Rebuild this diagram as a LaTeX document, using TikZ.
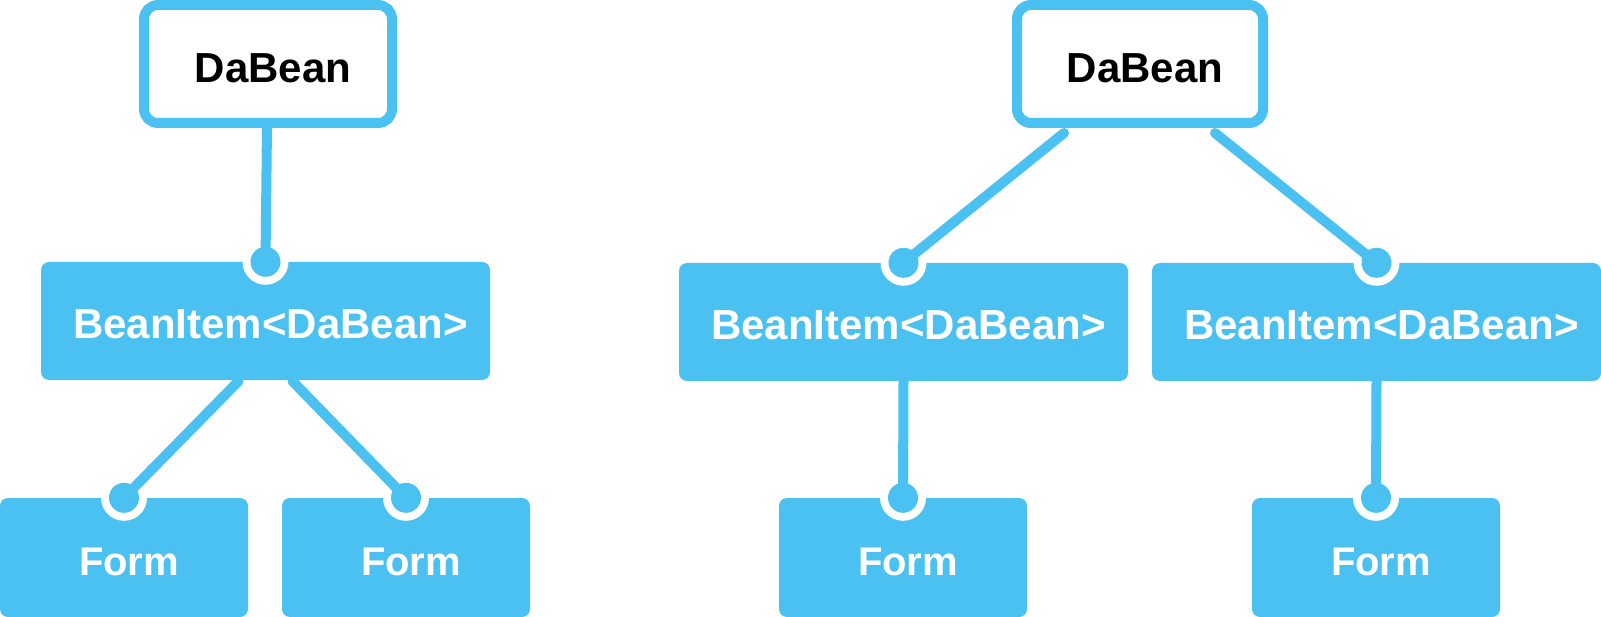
\documentclass[tikz,border=0pt]{standalone}
\usepackage{fontspec}
\setmainfont{Liberation Sans}
\usetikzlibrary{calc}
\definecolor{sky}{HTML}{4AC1F1}
\tikzset{
  outlinebox/.style={draw=sky, line width=10pt, fill=white, rounded corners=14pt,
    minimum width=248pt, minimum height=118pt, inner sep=0pt, text=black,
    text height=37pt, text depth=0pt,
    font=\fontsize{42}{48}\selectfont\bfseries},
  solidbox/.style={fill=sky, draw=none, rounded corners=8pt,
    minimum height=118pt, inner sep=0pt, text=white,
    text height=36pt, text depth=0pt,
    font=\fontsize{42}{48}\selectfont\bfseries},
  beanbox/.style={solidbox, minimum width=449pt},
  formbox/.style={solidbox, minimum width=248pt, minimum height=119pt,
    font=\fontsize{40}{48}\selectfont\bfseries},
  link/.style={draw=sky, line width=10pt, line cap=round},
}
\newcommand{\lbl}[1]{\hspace*{10pt}#1}
\newcommand{\ringdot}[1]{\fill[white] (#1) circle (23pt);}
\newcommand{\bluedot}[1]{\fill[sky] (#1) circle (15pt);}
\begin{document}
\begin{tikzpicture}[x=1pt, y=-1pt]
\useasboundingbox (0,0) rectangle (1601,617);
% left tree
\node[outlinebox] (d1) at (268,64) {\lbl{DaBean}};
\node[beanbox] (b1) at (265.5,321) {\lbl{BeanItem<DaBean>}};
\node[formbox] (f1) at (124,557.5) {\lbl{Form}};
\node[formbox] (f2) at (406,557.5) {\lbl{Form}};
% right tree
\node[outlinebox, minimum width=246pt] (d2) at (1140,64) {\lbl{DaBean}};
\node[beanbox] (b2) at (903.5,322) {\lbl{BeanItem<DaBean>}};
\node[beanbox] (b3) at (1376.5,322) {\lbl{BeanItem<DaBean>}};
\node[formbox] (f3) at (903,557.5) {\lbl{Form}};
\node[formbox] (f4) at (1376,557.5) {\lbl{Form}};
% white rings
\ringdot{b1.north}
\ringdot{f1.north}
\ringdot{f2.north}
\ringdot{b2.north}
\ringdot{b3.north}
\ringdot{f3.north}
\ringdot{f4.north}
% connectors
\draw[link] ([xshift=-1pt,yshift=2pt]d1.south) -- (b1.north);
\draw[link] ([xshift=-27pt,yshift=-1pt]b1.south) -- (f1.north);
\draw[link] ([xshift=27pt,yshift=-1pt]b1.south) -- (f2.north);
\draw[link] ([xshift=-76pt,yshift=-5pt]d2.south) -- (b2.north);
\draw[link] ([xshift=75pt,yshift=-5pt]d2.south) -- (b3.north);
\draw[link] (b2.south) -- (f3.north);
\draw[link] (b3.south) -- (f4.north);
% dots
\bluedot{b1.north}
\bluedot{f1.north}
\bluedot{f2.north}
\bluedot{b2.north}
\bluedot{b3.north}
\bluedot{f3.north}
\bluedot{f4.north}
\end{tikzpicture}
\end{document}
